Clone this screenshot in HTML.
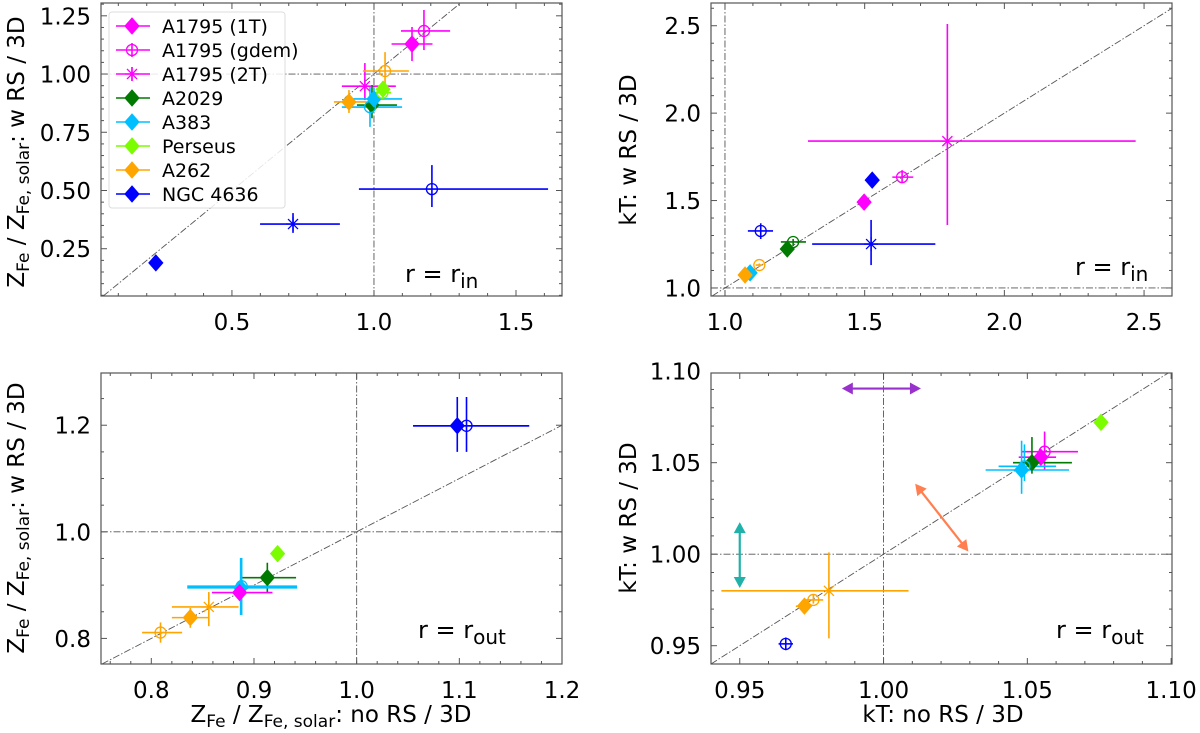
<!DOCTYPE html>
<html><head><meta charset="utf-8"><style>
html,body{margin:0;padding:0;background:#fff;}
svg{display:block;font-family:"DejaVu Sans","Liberation Sans",sans-serif;}
</style></head><body>
<svg id="fig" width="1200" height="733" viewBox="0 0 1200 733" xmlns="http://www.w3.org/2000/svg"></svg>
<script>
// ---------- DATA ----------
// Panel 1: Z_Fe, r = r_in
const p1Keys = ['A1795-1T','A1795-gdem','A1795-2T','A2029-1T','A383-gdem','A383-1T','Perseus-gdem','Perseus-1T','A262-1T','A262-gdem','NGC-1T','NGC-gdem','NGC-2T'];
const p1X  = [1.134,1.176,0.968,0.993,0.986,1.000,1.030,1.032,0.912,1.039,0.232,1.204,0.715];
const p1Y  = [1.129,1.185,0.948,0.867,0.858,0.893,0.920,0.935,0.880,1.013,0.189,0.506,0.356];
const p1XLo= [1.062,1.095,0.887,0.940,0.887,0.895,1.000,1.010,0.859,0.961,0.232,0.947,0.599];
const p1XHi= [1.206,1.268,1.077,1.081,1.099,1.099,1.060,1.050,0.975,1.123,0.232,1.613,0.880];
const p1YLo= [1.056,1.103,0.888,0.810,0.773,0.840,0.900,0.910,0.833,0.923,0.189,0.429,0.318];
const p1YHi= [1.202,1.275,1.047,0.953,0.950,0.940,0.950,0.970,0.931,1.094,0.189,0.609,0.403];
const p1XTicks=[0.5,1.0,1.5]; const p1XTickLabels=['0.5','1.0','1.5'];
const p1YTicks=[0.25,0.5,0.75,1.0,1.25]; const p1YTickLabels=['0.25','0.50','0.75','1.00','1.25'];

// Panel 2: kT, r = r_in
const p2Keys = ['A1795-1T','A1795-gdem','A1795-2T','NGC-1T','NGC-gdem','NGC-2T','A2029-gdem','A2029-1T','A383-1T','A262-1T','A262-gdem'];
const p2X  = [1.498,1.634,1.796,1.527,1.128,1.523,1.244,1.223,1.090,1.072,1.123];
const p2Y  = [1.491,1.634,1.840,1.617,1.326,1.251,1.263,1.223,1.086,1.074,1.131];
const p2XLo= [1.498,1.599,1.297,1.527,1.082,1.312,1.200,1.223,1.090,1.072,1.110];
const p2XHi= [1.498,1.674,2.470,1.527,1.172,1.753,1.290,1.223,1.090,1.072,1.135];
const p2YLo= [1.491,1.600,1.360,1.617,1.280,1.131,1.240,1.223,1.086,1.074,1.120];
const p2YHi= [1.491,1.674,2.510,1.617,1.370,1.389,1.280,1.223,1.086,1.074,1.140];
const p2XTicks=[1.0,1.5,2.0,2.5]; const p2XTickLabels=['1.0','1.5','2.0','2.5'];
const p2YTicks=[1.0,1.5,2.0,2.5]; const p2YTickLabels=['1.0','1.5','2.0','2.5'];

// Panel 3: Z_Fe, r = r_out
const p3Keys = ['NGC-1T','NGC-gdem','Perseus-1T','A2029-1T','A383-1T','A383-gdem','A1795-1T','A262-2T','A262-1T','A262-gdem'];
const p3X  = [1.098,1.107,0.923,0.913,0.887,0.888,0.886,0.856,0.838,0.809];
const p3Y  = [1.199,1.199,0.959,0.914,0.895,0.898,0.886,0.859,0.839,0.811];
const p3XLo= [1.055,1.055,0.920,0.888,0.835,0.835,0.859,0.820,0.820,0.791];
const p3XHi= [1.168,1.168,0.928,0.941,0.942,0.942,0.918,0.885,0.856,0.830];
const p3YLo= [1.150,1.150,0.959,0.887,0.844,0.844,0.880,0.823,0.820,0.792];
const p3YHi= [1.253,1.253,0.959,0.942,0.951,0.951,0.893,0.887,0.857,0.830];
const p3XTicks=[0.8,0.9,1.0,1.1,1.2]; const p3XTickLabels=['0.8','0.9','1.0','1.1','1.2'];
const p3YTicks=[0.8,1.0,1.2]; const p3YTickLabels=['0.8','1.0','1.2'];

// Panel 4: kT, r = r_out
const p4Keys = ['Perseus-1T','A1795-gdem','A1795-1T','A2029-1T','A383-1T','A383-gdem','A262-2T','A262-gdem','A262-1T','NGC-gdem'];
const p4X  = [1.0756,1.0560,1.0547,1.0516,1.0480,1.0490,0.9810,0.9756,0.9725,0.9660];
const p4Y  = [1.0720,1.0560,1.0530,1.0500,1.0460,1.0480,0.9800,0.9750,0.9716,0.9510];
const p4XLo= [1.0756,1.0480,1.0470,1.0450,1.0355,1.0400,0.9436,0.9725,0.9695,0.9635];
const p4XHi= [1.0756,1.0676,1.0600,1.0655,1.0645,1.0600,1.0087,0.9790,0.9750,0.9685];
const p4YLo= [1.0720,1.0460,1.0500,1.0440,1.0330,1.0400,0.9540,0.9730,0.9700,0.9475];
const p4YHi= [1.0720,1.0670,1.0560,1.0640,1.0620,1.0600,1.0010,0.9780,0.9740,0.9545];
const p4XTicks=[0.95,1.0,1.05,1.1]; const p4XTickLabels=['0.95','1.00','1.05','1.10'];
const p4YTicks=[0.95,1.0,1.05,1.1]; const p4YTickLabels=['0.95','1.00','1.05','1.10'];

// Legend
const legendLabels=['A1795 (1T)','A1795 (gdem)','A1795 (2T)','A2029','A383','Perseus','A262','NGC 4636'];
const legendKeys=['A1795-1T','A1795-gdem','A1795-2T','A2029-1T','A383-1T','Perseus-1T','A262-1T','NGC-1T'];

// ---------- STYLE ----------
const COLORS={A1795:'#ff00ff',A2029:'#007a00',A383:'#00bfff',Perseus:'#7cfc00',A262:'#ffa500',NGC:'#0000ff'};
const NS='http://www.w3.org/2000/svg';
const svg=document.getElementById('fig');
function el(tag,attrs,parent){const e=document.createElementNS(NS,tag);for(const k in attrs)e.setAttribute(k,attrs[k]);(parent||svg).appendChild(e);return e;}

function drawMarker(g,key,cx,cy){
  const cl=key.split('-')[0], kind=key.split('-')[1], c=COLORS[cl];
  let m;
  if(kind==='1T'){
    m=el('polygon',{points:`${cx},${cy-8} ${cx+7},${cy} ${cx},${cy+8} ${cx-7},${cy}`,fill:c,stroke:c,'stroke-width':1},g);
  }else if(kind==='gdem'){
    m=el('circle',{cx:cx,cy:cy,r:5.5,fill:'none',stroke:c,'stroke-width':1.3},g);
  }else{
    m=el('path',{d:`M${cx-5} ${cy-5}L${cx+5} ${cy+5}M${cx-5} ${cy+5}L${cx+5} ${cy-5}M${cx} ${cy-7}L${cx} ${cy+7}M${cx-7} ${cy}L${cx+7} ${cy}`,stroke:c,'stroke-width':1.3,fill:'none'},g);
  }
  
  
}

function panel(cfg){
  const {id,L,R,T,B,x0,x1,y0,y1,keys,X,Y,XLo,XHi,YLo,YHi,xt,xtl,yt,ytl,xminor,yminor}=cfg;
  const sx=v=>L+(v-x0)/(x1-x0)*(R-L);
  const sy=v=>B-(v-y0)/(y1-y0)*(B-T);
  const g=el('g',{});
  
  
  const clipId='clip-'+id;
  const cp=el('clipPath',{id:clipId},g); el('rect',{x:L,y:T,width:R-L,height:B-T},cp);
  const inner=el('g',{'clip-path':`url(#${clipId})`},g);
  const dash={'stroke':'#555','stroke-width':0.9,'stroke-dasharray':'7,2,1.5,2',fill:'none'};
  const lo=Math.max(x0,y0), hi=Math.min(x1,y1);
  const diag=el('line',Object.assign({x1:sx(lo),y1:sy(lo),x2:sx(hi),y2:sy(hi)},dash),inner);
  
  
  const vl=el('line',Object.assign({x1:sx(1),y1:T,x2:sx(1),y2:B},dash),inner);
  
  
  const hl=el('line',Object.assign({x1:L,y1:sy(1),x2:R,y2:sy(1)},dash),inner);
  
  
  keys.forEach((k,i)=>{
    const c=COLORS[k.split('-')[0]];
    const eg=el('g',{},inner);
    
    
    if(XHi[i]>XLo[i]) el('line',{x1:sx(XLo[i]),y1:sy(Y[i]),x2:sx(XHi[i]),y2:sy(Y[i]),stroke:c,'stroke-width':1.6},eg);
    if(YHi[i]>YLo[i]) el('line',{x1:sx(X[i]),y1:sy(YLo[i]),x2:sx(X[i]),y2:sy(YHi[i]),stroke:c,'stroke-width':1.6},eg);
  });
  keys.forEach((k,i)=>drawMarker(inner,k,sx(X[i]),sy(Y[i])));
  const fr=el('rect',{x:L,y:T,width:R-L,height:B-T,fill:'none',stroke:'#555','stroke-width':1.2},g);
  
  
  const tk={stroke:'#555','stroke-width':1};
  for(let v=Math.ceil(x0/xminor-1e-9)*xminor; v<=x1+1e-9; v+=xminor){
    const isMaj=xt.some(t=>Math.abs(t-v)<1e-6), len=isMaj?6:3, x=sx(v);
    el('line',Object.assign({x1:x,y1:B,x2:x,y2:B-len},tk),g);
    el('line',Object.assign({x1:x,y1:T,x2:x,y2:T+len},tk),g);
  }
  for(let v=Math.ceil(y0/yminor-1e-9)*yminor; v<=y1+1e-9; v+=yminor){
    const isMaj=yt.some(t=>Math.abs(t-v)<1e-6), len=isMaj?6:3, y=sy(v);
    el('line',Object.assign({x1:L,y1:y,x2:L+len,y2:y},tk),g);
    el('line',Object.assign({x1:R,y1:y,x2:R-len,y2:y},tk),g);
  }
  xt.forEach((v,i)=>{
    const t=el('text',{x:sx(v),y:B+34,'text-anchor':'middle','font-size':23,fill:'#000'},g);
    t.textContent=xtl[i];
    
    
  });
  yt.forEach((v,i)=>{
    const t=el('text',{x:L-10,y:sy(v)+8.5,'text-anchor':'end','font-size':23,fill:'#000'},g);
    t.textContent=ytl[i];
    
    
  });
  return {g,sx,sy};
}

const P1=panel({id:'panel-zfe-rin',L:101,R:562,T:3,B:296,x0:0.039,x1:1.662,y0:0.047,y1:1.305,keys:p1Keys,X:p1X,Y:p1Y,XLo:p1XLo,XHi:p1XHi,YLo:p1YLo,YHi:p1YHi,xt:p1XTicks,xtl:p1XTickLabels,yt:p1YTicks,ytl:p1YTickLabels,xminor:0.1,yminor:0.05});
const P2=panel({id:'panel-kt-rin',L:711,R:1172,T:3,B:296,x0:0.95,x1:2.60,y0:0.954,y1:2.63,keys:p2Keys,X:p2X,Y:p2Y,XLo:p2XLo,XHi:p2XHi,YLo:p2YLo,YHi:p2YHi,xt:p2XTicks,xtl:p2XTickLabels,yt:p2YTicks,ytl:p2YTickLabels,xminor:0.1,yminor:0.1});
const P3=panel({id:'panel-zfe-rout',L:101,R:562,T:373,B:664,x0:0.751,x1:1.2,y0:0.752,y1:1.298,keys:p3Keys,X:p3X,Y:p3Y,XLo:p3XLo,XHi:p3XHi,YLo:p3YLo,YHi:p3YHi,xt:p3XTicks,xtl:p3XTickLabels,yt:p3YTicks,ytl:p3YTickLabels,xminor:0.02,yminor:0.05});
const P4=panel({id:'panel-kt-rout',L:711,R:1172,T:373,B:664,x0:0.940,x1:1.1003,y0:0.940,y1:1.099,keys:p4Keys,X:p4X,Y:p4Y,XLo:p4XLo,XHi:p4XHi,YLo:p4YLo,YHi:p4YHi,xt:p4XTicks,xtl:p4XTickLabels,yt:p4YTicks,ytl:p4YTickLabels,xminor:0.01,yminor:0.01});

const arrowDefs=[['arrow-horizontal','#9932cc',0.9855,1.0905,1.0130,1.0905],['arrow-vertical','#20b2aa',0.9500,1.0175,0.9500,0.9815],['arrow-diagonal','#ff7f50',1.0110,1.0385,1.0295,1.0015]];
arrowDefs.forEach(a=>{
  const g=el('g',{});
  
  
  const xA=P4.sx(a[2]),yA=P4.sy(a[3]),xB=P4.sx(a[4]),yB=P4.sy(a[5]);
  const dx=xB-xA,dy=yB-yA,len=Math.hypot(dx,dy),ux=dx/len,uy=dy/len,hl=11,hw=6;
  el('line',{x1:xA+ux*hl*0.8,y1:yA+uy*hl*0.8,x2:xB-ux*hl*0.8,y2:yB-uy*hl*0.8,stroke:a[1],'stroke-width':2.2},g);
  [[xA,yA,1],[xB,yB,-1]].forEach(([px,py,s])=>{
    const bx=px+s*ux*hl, by=py+s*uy*hl;
    el('polygon',{points:`${px},${py} ${bx-uy*hw},${by+ux*hw} ${bx+uy*hw},${by-ux*hw}`,fill:a[1]},g);
  });
});

function regionLabel(x,y,sub,name){
  const t=el('text',{x:x,y:y,'font-size':24,fill:'#000'});
  t.innerHTML=`r = r<tspan dy="6" font-size="20">${sub}</tspan>`;
  
  
}
regionLabel(405,282,'in','label-r-in-left');
regionLabel(1075,275,'in','label-r-in-right');
regionLabel(418,638,'out','label-r-out-left');
regionLabel(1056,638,'out','label-r-out-right');

function title(x,y,rot,html,name){
  const t=el('text',{x:x,y:y,'text-anchor':'middle','font-size':23,fill:'#000',transform:rot?`rotate(-90 ${x} ${y})`:''});
  t.innerHTML=html;
  
  
}
const zlab=(tail)=>`Z<tspan dy="5" font-size="17">Fe</tspan><tspan dy="-5"> / Z</tspan><tspan dy="5" font-size="17">Fe, solar</tspan><tspan dy="-5">: ${tail}</tspan>`;
title(24,152,true,zlab('w RS / 3D'),'y-axis-title-zfe-rin');
title(24,518,true,zlab('w RS / 3D'),'y-axis-title-zfe-rout');
title(636,150,true,'kT: w RS / 3D','y-axis-title-kt-rin');
title(636,518,true,'kT: w RS / 3D','y-axis-title-kt-rout');
title(331,722,false,zlab('no RS / 3D'),'x-axis-title-zfe');
title(943,722,false,'kT: no RS / 3D','x-axis-title-kt');

const lg=el('g',{});


el('rect',{x:109,y:12,width:176,height:196,rx:3,fill:'#fff','fill-opacity':0.85,stroke:'#ddd','stroke-width':1},lg);
legendLabels.forEach((lab,i)=>{
  const y=26+i*24, key=legendKeys[i], c=COLORS[key.split('-')[0]];
  const eg=el('g',{},lg);
  
  
  el('line',{x1:116,y1:y,x2:150,y2:y,stroke:c,'stroke-width':1.6},eg);
  if(key.endsWith('gdem')||key.endsWith('2T')) el('line',{x1:132,y1:y-7,x2:132,y2:y+7,stroke:c,'stroke-width':1.6},eg);
  drawMarker(eg,key,132,y);
  const t=el('text',{x:162,y:y+7,'font-size':19,fill:'#000'},eg);
  t.textContent=lab;
});
</script>
</body></html>
